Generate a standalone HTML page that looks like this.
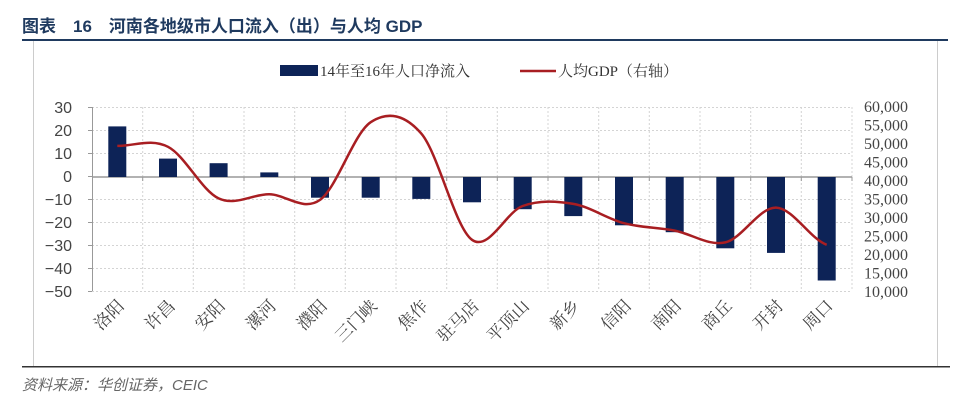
<!DOCTYPE html>
<html><head><meta charset="utf-8"><style>
body{margin:0;background:#fff;width:960px;height:402px;overflow:hidden}
svg{display:block}
.t{font-family:"Liberation Sans","Noto Sans CJK SC",sans-serif}
.s{font-family:"Liberation Serif","Noto Serif CJK SC",serif}
</style></head><body>
<svg width="960" height="402" viewBox="0 0 960 402" xmlns="http://www.w3.org/2000/svg">
<text x="22" y="32" class="t" font-size="17" font-weight="bold" fill="#1f3a5f">图表　16　河南各地级市人口流入（出）与人均 GDP</text>
<rect x="22" y="39" width="926" height="2" fill="#1f3a5f"/>
<line x1="33.5" y1="41" x2="33.5" y2="367" stroke="#ccc"/>
<line x1="937.5" y1="41" x2="937.5" y2="367" stroke="#ccc"/>
<rect x="22" y="366" width="928" height="1.5" fill="#333"/>
<text x="22" y="390" class="t" font-size="15" font-style="italic" fill="#666">资料来源：华创证券，CEIC</text>
<!-- legend -->
<rect x="280" y="65" width="38" height="11" fill="#0d2357"/>
<text x="320" y="76" class="s" font-size="15" fill="#333">14年至16年人口净流入</text>
<line x1="520" y1="71" x2="556" y2="71" stroke="#a81e22" stroke-width="2.5"/>
<text x="558" y="76" class="s" font-size="15" fill="#333">人均GDP（右轴）</text>
<!-- grid -->
<g stroke="#d4d4d4" stroke-dasharray="2,2" stroke-width="1">
<line x1="92" y1="107.5" x2="852" y2="107.5"/><line x1="92" y1="130.5" x2="852" y2="130.5"/><line x1="92" y1="153.5" x2="852" y2="153.5"/>
<line x1="92" y1="199.5" x2="852" y2="199.5"/><line x1="92" y1="222.5" x2="852" y2="222.5"/><line x1="92" y1="245.5" x2="852" y2="245.5"/><line x1="92" y1="268.5" x2="852" y2="268.5"/><line x1="92" y1="291.5" x2="852" y2="291.5"/>
<line x1="142.7" y1="107" x2="142.7" y2="291"/><line x1="193.3" y1="107" x2="193.3" y2="291"/><line x1="244" y1="107" x2="244" y2="291"/><line x1="294.7" y1="107" x2="294.7" y2="291"/><line x1="345.3" y1="107" x2="345.3" y2="291"/><line x1="396" y1="107" x2="396" y2="291"/><line x1="446.7" y1="107" x2="446.7" y2="291"/><line x1="497.3" y1="107" x2="497.3" y2="291"/><line x1="548" y1="107" x2="548" y2="291"/><line x1="598.7" y1="107" x2="598.7" y2="291"/><line x1="649.3" y1="107" x2="649.3" y2="291"/><line x1="700" y1="107" x2="700" y2="291"/><line x1="750.7" y1="107" x2="750.7" y2="291"/><line x1="801.3" y1="107" x2="801.3" y2="291"/><line x1="852" y1="107" x2="852" y2="291"/>
</g>
<!-- axes -->
<g stroke="#999" stroke-width="1">
<line x1="92.5" y1="107" x2="92.5" y2="291"/>
<line x1="88" y1="107.5" x2="92" y2="107.5"/><line x1="88" y1="130.5" x2="92" y2="130.5"/><line x1="88" y1="153.5" x2="92" y2="153.5"/><line x1="88" y1="176.5" x2="92" y2="176.5"/><line x1="88" y1="199.5" x2="92" y2="199.5"/><line x1="88" y1="222.5" x2="92" y2="222.5"/><line x1="88" y1="245.5" x2="92" y2="245.5"/><line x1="88" y1="268.5" x2="92" y2="268.5"/><line x1="88" y1="291.5" x2="92" y2="291.5"/>
<line x1="92" y1="177" x2="852" y2="177" stroke-width="1.5"/>
<g stroke-width="1"><line x1="142.7" y1="177" x2="142.7" y2="181"/><line x1="193.3" y1="177" x2="193.3" y2="181"/><line x1="244" y1="177" x2="244" y2="181"/><line x1="294.7" y1="177" x2="294.7" y2="181"/><line x1="345.3" y1="177" x2="345.3" y2="181"/><line x1="396" y1="177" x2="396" y2="181"/><line x1="446.7" y1="177" x2="446.7" y2="181"/><line x1="497.3" y1="177" x2="497.3" y2="181"/><line x1="548" y1="177" x2="548" y2="181"/><line x1="598.7" y1="177" x2="598.7" y2="181"/><line x1="649.3" y1="177" x2="649.3" y2="181"/><line x1="700" y1="177" x2="700" y2="181"/><line x1="750.7" y1="177" x2="750.7" y2="181"/><line x1="801.3" y1="177" x2="801.3" y2="181"/><line x1="852" y1="177" x2="852" y2="181"/></g>
</g>
<!-- left labels -->
<g class="t" font-size="16" fill="#444" text-anchor="end">
<text x="72" y="113">30</text><text x="72" y="136">20</text><text x="72" y="159">10</text><text x="72" y="182">0</text><text x="72" y="205">−10</text><text x="72" y="228">−20</text><text x="72" y="251">−30</text><text x="72" y="274">−40</text><text x="72" y="297">−50</text>
</g>
<!-- right labels -->
<g class="s" font-size="16" fill="#444">
<text x="864" y="112">60,000</text><text x="864" y="130.5">55,000</text><text x="864" y="149">50,000</text><text x="864" y="167.5">45,000</text><text x="864" y="186">40,000</text><text x="864" y="204.5">35,000</text><text x="864" y="223">30,000</text><text x="864" y="241.5">25,000</text><text x="864" y="260">20,000</text><text x="864" y="278.5">15,000</text><text x="864" y="297">10,000</text>
</g>
<!-- bars -->
<g fill="#0d2357">
<rect x="108.3" y="126.4" width="18" height="50.6"/>
<rect x="159" y="158.6" width="18" height="18.4"/>
<rect x="209.6" y="163.2" width="18" height="13.8"/>
<rect x="260.3" y="172.4" width="18" height="4.6"/>
<rect x="311" y="177" width="18" height="20.7"/>
<rect x="361.7" y="177" width="18" height="20.7"/>
<rect x="412.3" y="177" width="18" height="21.9"/>
<rect x="463" y="177" width="18" height="25.3"/>
<rect x="513.7" y="177" width="18" height="32.2"/>
<rect x="564.3" y="177" width="18" height="39.1"/>
<rect x="615" y="177" width="18" height="48.3"/>
<rect x="665.7" y="177" width="18" height="55.2"/>
<rect x="716.3" y="177" width="18" height="71.3"/>
<rect x="767" y="177" width="18" height="75.9"/>
<rect x="817.7" y="177" width="18" height="103.5"/>
</g>
<!-- line -->
<path fill="none" stroke="#a81e22" stroke-width="2.5" d="M117.3,145.9 C134.2,146.05 151.1,138.05 168,146.8 C184.9,155.55 201.7,190.48 218.6,198.4 C235.5,206.32 252.4,194.05 269.3,194.3 C286.2,194.55 303.1,211.92 320,199.9 C336.9,187.88 353.8,133.25 370.7,122.2 C387.6,111.15 404.4,114 421.3,133.6 C438.2,153.2 455.1,227.73 472,239.8 C488.9,251.87 505.8,211.98 522.7,206 C539.6,200.02 556.4,201.03 573.3,203.9 C590.2,206.77 607.1,218.75 624,223.2 C640.9,227.65 657.8,227.4 674.7,230.6 C691.6,233.8 708.4,246.23 725.3,242.4 C742.2,238.57 759.1,207.2 776,207.6 C792.9,208 809.8,238.6 826.7,244.8"/>
<!-- x labels -->
<g class="s" font-size="17" fill="#444" text-anchor="end">
<text transform="translate(125,307) rotate(-45)">洛阳</text>
<text transform="translate(176,307) rotate(-45)">许昌</text>
<text transform="translate(226,307) rotate(-45)">安阳</text>
<text transform="translate(277,307) rotate(-45)">漯河</text>
<text transform="translate(328,307) rotate(-45)">濮阳</text>
<text transform="translate(378,307) rotate(-45)">三门峡</text>
<text transform="translate(429,307) rotate(-45)">焦作</text>
<text transform="translate(480,307) rotate(-45)">驻马店</text>
<text transform="translate(530,307) rotate(-45)">平顶山</text>
<text transform="translate(581,307) rotate(-45)">新乡</text>
<text transform="translate(632,307) rotate(-45)">信阳</text>
<text transform="translate(682,307) rotate(-45)">南阳</text>
<text transform="translate(733,307) rotate(-45)">商丘</text>
<text transform="translate(784,307) rotate(-45)">开封</text>
<text transform="translate(834,307) rotate(-45)">周口</text>
</g>
</svg>
</body></html>
